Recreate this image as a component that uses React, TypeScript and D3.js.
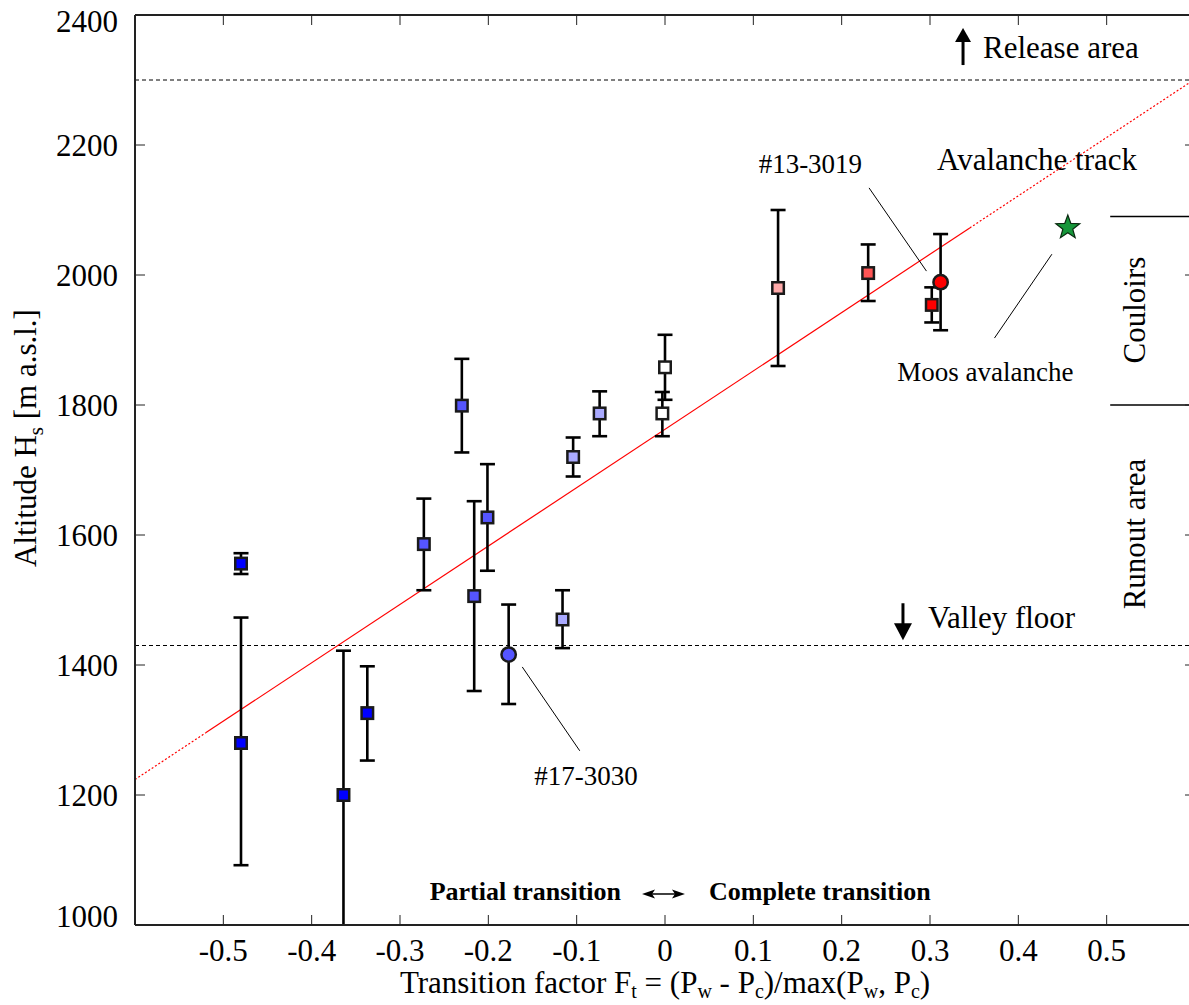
import React from "react";
import * as d3 from "d3";

// ---- data ----
const ftValues = [-0.48, -0.48, -0.364, -0.337, -0.273, -0.23, -0.216, -0.201, -0.177, -0.116, -0.104, -0.074, 0.0, -0.003, 0.128, 0.23, 0.302, 0.312];
const altValues = [1556, 1280, 1200, 1326, 1586, 1799, 1506, 1627, 1416, 1470, 1720, 1787, 1858, 1787, 1980, 2003, 1954, 1989];
const altLow = [1540, 1092, 978, 1253, 1515, 1727, 1360, 1545, 1340, 1426, 1690, 1752, 1808, 1752, 1860, 1960, 1927, 1915];
const altHigh = [1572, 1473, 1422, 1398, 1656, 1871, 1652, 1709, 1493, 1515, 1750, 1821, 1908, 1820, 2100, 2047, 1981, 2063];
const fillColors = ["#0000ff", "#0000ff", "#0000ff", "#0000ff", "#5555ff", "#5555ff", "#5555ff", "#5555ff", "#5555ff", "#aaaaff", "#aaaaff", "#aaaaff", "#ffffff", "#ffffff", "#ffaaaa", "#ff5555", "#ff0000", "#ff0000"];
const shapes = ["s", "s", "s", "s", "s", "s", "s", "s", "c", "s", "s", "s", "s", "s", "s", "s", "s", "c"];

const mooX = 0.456;
const mooY = 2073;

const fitIntercept = 1762.6;
const fitSlope = 898;
const fitSolid = [-0.52, 0.345];

const xTicks = [-0.5, -0.4, -0.3, -0.2, -0.1, 0, 0.1, 0.2, 0.3, 0.4, 0.5];
const xTickLabels = ["-0.5", "-0.4", "-0.3", "-0.2", "-0.1", "0", "0.1", "0.2", "0.3", "0.4", "0.5"];
const yTicks = [1000, 1200, 1400, 1600, 1800, 2000, 2200, 2400];

const releaseAlt = 2300;
const valleyAlt = 1430;
const zoneBounds = [2090, 1800];

const W = 1189;
const H = 1005;
const FONT = "'Liberation Serif', 'Times New Roman', serif";

function starPath(cx: number, cy: number, ro: number, ri: number) {
  const pts: [number, number][] = [];
  for (let i = 0; i < 10; i++) {
    const r = i % 2 === 0 ? ro : ri;
    const a = -Math.PI / 2 + (i * Math.PI) / 5;
    pts.push([cx + r * Math.cos(a), cy + r * Math.sin(a)]);
  }
  return d3.line()(pts)! + "Z";
}

export default function App() {
  const x = d3.scaleLinear().domain([-0.6, 0.6]).range([135, 1195]);
  const y = d3.scaleLinear().domain([1000, 2400]).range([925, 15]);
  const [x0, x1] = x.range();
  const [yb, yt] = y.range();
  const fit = (v: number) => fitIntercept + fitSlope * v;
  const line = d3.line<number>().x((v) => x(v)).y((v) => y(fit(v)));

  const arrowUp = (xv: number, ya: number, yb2: number) => {
    const px = x(xv);
    const pTop = y(yb2);
    const pBot = y(ya);
    return (
      <g>
        <line x1={px} x2={px} y1={pBot} y2={pTop + 12} stroke="#000" strokeWidth={3} />
        <path d={`M${px - 8},${pTop + 14}L${px + 8},${pTop + 14}L${px},${pTop}Z`} fill="#000" />
      </g>
    );
  };
  const arrowDown = (xv: number, ya: number, yb2: number) => {
    const px = x(xv);
    const pTop = y(ya);
    const pBot = y(yb2);
    return (
      <g>
        <line x1={px} x2={px} y1={pTop} y2={pBot - 12} stroke="#000" strokeWidth={3} />
        <path d={`M${px - 9},${pBot - 17}L${px + 9},${pBot - 17}L${px},${pBot}Z`} fill="#000" />
      </g>
    );
  };

  const dax0 = x(-0.026);
  const dax1 = x(0.0226);
  const day = y(1047.7);

  return (
    <div style={{ position: "absolute", left: 0, top: 0 }}>
      <svg width={W} height={H} style={{ display: "block", background: "#fff" }} fontFamily={FONT}>
        <defs>
          <clipPath id="plotclip">
            <rect x={x0} y={yt} width={x1 - x0} height={yb - yt} />
          </clipPath>
        </defs>

        {/* dashed reference lines */}
        <line x1={x0} x2={x1} y1={y(releaseAlt)} y2={y(releaseAlt)} stroke="#000" strokeWidth={1} strokeDasharray="4,3" />
        <line x1={x0} x2={x1} y1={y(valleyAlt)} y2={y(valleyAlt)} stroke="#000" strokeWidth={1} strokeDasharray="4,3" />

        {/* zone boundaries at right */}
        {zoneBounds.map((b, i) => (
          <line key={i} x1={x(0.504)} x2={x1} y1={y(b)} y2={y(b)} stroke="#000" strokeWidth={1.5} />
        ))}

        {/* fit line */}
        <g clipPath="url(#plotclip)">
          <path d={line([-0.6, fitSolid[0]])!} stroke="#ff0000" strokeWidth={1.2} strokeDasharray="2,2" fill="none" />
          <path d={line([fitSolid[1], 0.6])!} stroke="#ff0000" strokeWidth={1.2} strokeDasharray="2,2" fill="none" />
          <path d={line(fitSolid)!} stroke="#ff0000" strokeWidth={1.2} fill="none" />
        </g>

        {/* leader lines */}
        <line x1={x(0.231)} y1={y(2134)} x2={x(0.296)} y2={y(2006)} stroke="#000" strokeWidth={1} />
        <line x1={x(0.373)} y1={y(1903)} x2={x(0.438)} y2={y(2032)} stroke="#000" strokeWidth={1} />
        <line x1={x(-0.1616)} y1={y(1397)} x2={x(-0.0965)} y2={y(1268)} stroke="#000" strokeWidth={1} />

        {/* error bars */}
        <g clipPath="url(#plotclip)" stroke="#000" strokeWidth={2.6}>
          {ftValues.map((fv, i) => {
            const px = x(fv);
            return (
              <g key={i}>
                <line x1={px} x2={px} y1={y(altLow[i])} y2={y(altHigh[i])} />
                <line x1={px - 7.5} x2={px + 7.5} y1={y(altLow[i])} y2={y(altLow[i])} />
                <line x1={px - 7.5} x2={px + 7.5} y1={y(altHigh[i])} y2={y(altHigh[i])} />
              </g>
            );
          })}
        </g>

        {/* markers */}
        <g stroke="#1a1a1a" strokeWidth={2.5}>
          {ftValues.map((fv, i) => {
            const px = x(fv);
            const py = y(altValues[i]);
            return shapes[i] === "c" ? (
              <circle key={i} cx={px} cy={py} r={7.2} fill={fillColors[i]} />
            ) : (
              <rect key={i} x={px - 5.75} y={py - 5.75} width={11.5} height={11.5} fill={fillColors[i]} />
            );
          })}
        </g>
        <path d={starPath(x(mooX), y(mooY), 12.5, 5.2)} fill="#16963a" stroke="#0a2a10" strokeWidth={1.2} />

        {/* frame */}
        <line x1={x0} x2={x0} y1={yt} y2={yb} stroke="#222" strokeWidth={2} />
        <line x1={x0} x2={x1} y1={yt} y2={yt} stroke="#222" strokeWidth={2} />
        <line x1={x0} x2={x1} y1={yb} y2={yb} stroke="#222" strokeWidth={2} />
        <line x1={x1} x2={x1} y1={yt} y2={yb} stroke="#222" strokeWidth={2} />

        {/* ticks */}
        {xTicks.map((t, i) => (
          <g key={i}>
            <line x1={x(t)} x2={x(t)} y1={yb} y2={yb - 10} stroke="#222" strokeWidth={1} />
            <line x1={x(t)} x2={x(t)} y1={yt} y2={yt + 10} stroke="#222" strokeWidth={1} />
            <text x={x(t)} y={961} textAnchor="middle" fontSize={31} fill="#000">
              {xTickLabels[i]}
            </text>
          </g>
        ))}
        {yTicks.map((t, i) => {
          const py = y(t);
          const shift = t === 2400 ? 6 : t === 1000 ? -9 : 0;
          return (
            <g key={i}>
              {t !== 1000 && t !== 2400 && (
                <>
                  <line x1={x0} x2={x0 + 10} y1={py} y2={py} stroke="#222" strokeWidth={1} />
                  <line x1={x1} x2={x1 - 10} y1={py} y2={py} stroke="#222" strokeWidth={1} />
                </>
              )}
              <text x={118} y={py + 10.5 + shift} textAnchor="end" fontSize={31} fill="#000">
                {t}
              </text>
            </g>
          );
        })}

        {/* axis titles */}
        <text x={665} y={993} textAnchor="middle" fontSize={31} fill="#000">
          <tspan>Transition factor F</tspan>
          <tspan dy={5} fontSize={20}>t</tspan>
          <tspan dy={-5}> = (P</tspan>
          <tspan dy={5} fontSize={20}>w</tspan>
          <tspan dy={-5}> - P</tspan>
          <tspan dy={5} fontSize={20}>c</tspan>
          <tspan dy={-5}>)/max(P</tspan>
          <tspan dy={5} fontSize={20}>w</tspan>
          <tspan dy={-5}>, P</tspan>
          <tspan dy={5} fontSize={20}>c</tspan>
          <tspan dy={-5}>)</tspan>
        </text>
        <text transform={`translate(36,438) rotate(-90)`} textAnchor="middle" fontSize={31} fill="#000">
          <tspan>Altitude H</tspan>
          <tspan dy={7} fontSize={21}>s</tspan>
          <tspan dy={-7}> [m a.s.l.]</tspan>
        </text>

        {/* annotations */}
        <text x={x(0.36)} y={y(2334)} fontSize={31} fill="#000">Release area</text>
        {arrowUp(0.3374, 2323, 2380)}
        <text x={x(0.308)} y={y(2161.5)} fontSize={31} fill="#000">Avalanche track</text>
        <text x={x(0.2977)} y={y(1457)} fontSize={31} fill="#000">Valley floor</text>
        {arrowDown(0.2694, 1495, 1438)}
        <text transform={`translate(${x(0.5434)},${y(1946)}) rotate(-90)`} textAnchor="middle" fontSize={31} fill="#000">
          Couloirs
        </text>
        <text transform={`translate(${x(0.5434)},${y(1601.5)}) rotate(-90)`} textAnchor="middle" fontSize={31} fill="#000">
          Runout area
        </text>
        <text x={x(0.106)} y={y(2157)} fontSize={27} fill="#000">#13-3019</text>
        <text x={x(0.263)} y={y(1837)} fontSize={27} fill="#000">Moos avalanche</text>
        <text x={x(-0.148)} y={y(1215)} fontSize={27} fill="#000">#17-3030</text>

        <text x={x(-0.0498)} y={y(1038.5)} textAnchor="end" fontSize={26} fontWeight="bold" fill="#000">
          Partial transition
        </text>
        <text x={x(0.0498)} y={y(1038.5)} fontSize={26} fontWeight="bold" fill="#000">
          Complete transition
        </text>
        <line x1={dax0 + 6} x2={dax1 - 6} y1={day} y2={day} stroke="#000" strokeWidth={1.5} />
        <path d={`M${dax0},${day}L${dax0 + 13},${day - 4.5}L${dax0 + 10},${day}L${dax0 + 13},${day + 4.5}Z`} fill="#000" />
        <path d={`M${dax1},${day}L${dax1 - 13},${day - 4.5}L${dax1 - 10},${day}L${dax1 - 13},${day + 4.5}Z`} fill="#000" />
      </svg>
    </div>
  );
}
